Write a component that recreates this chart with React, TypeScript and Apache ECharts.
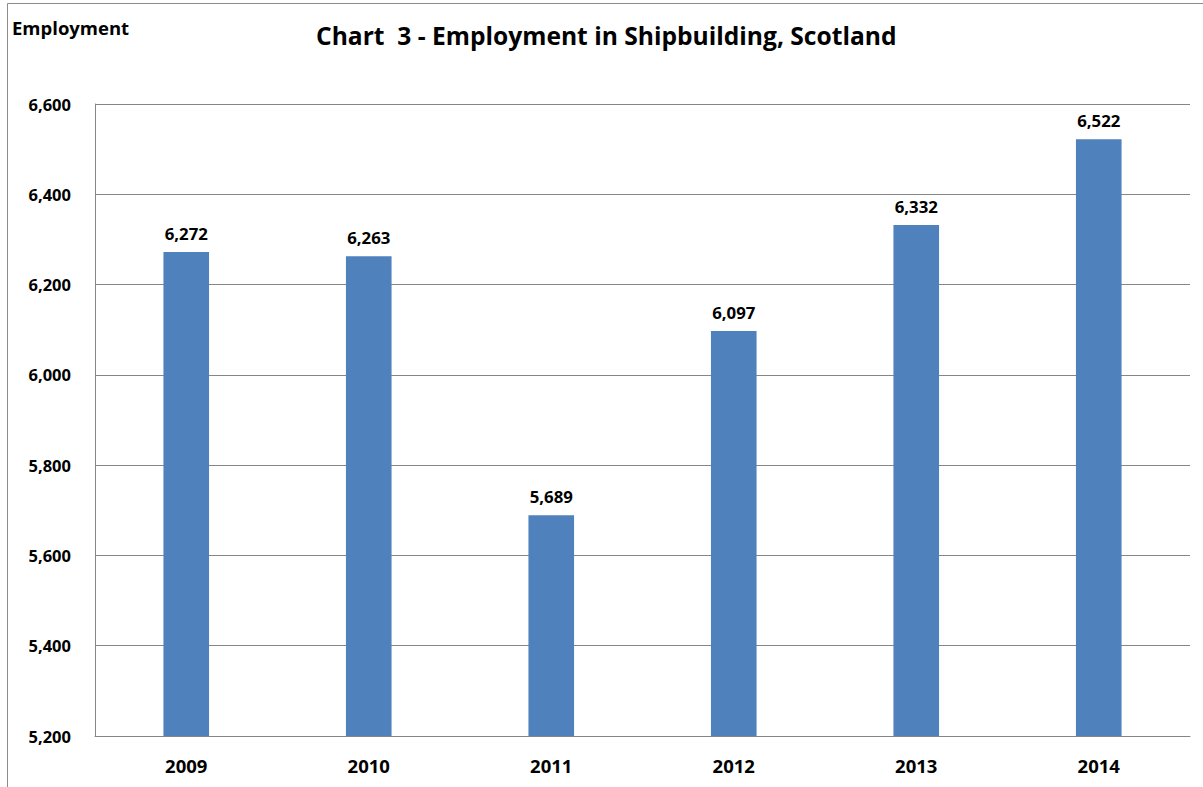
import React, { useEffect, useRef } from "react";
import * as echarts from "echarts";

const categories = ["2009", "2010", "2011", "2012", "2013", "2014"];
const employment = [6272, 6263, 5689, 6097, 6332, 6522];
const yMin = 5200;
const yMax = 6600;
const yInterval = 200;

const FONT = "'Open Sans', Lato, sans-serif";
const fmt = (v: number) => v.toLocaleString("en-GB");

export default function App() {
  const ref = useRef<HTMLDivElement>(null);
  useEffect(() => {
    if (!ref.current) return;
    const chart = echarts.init(ref.current, undefined, { renderer: "svg" });
    chart.setOption({
      animation: false,
      backgroundColor: "#fff",
      graphic: [
        {
          type: "rect",
          shape: { x: 7.5, y: 3.5, width: 1300, height: 900 },
          style: { fill: "none", stroke: "#8c8c8c", lineWidth: 1 },
          silent: true,
        },
        {
          type: "text",
          left: 12,
          top: 18,
          style: { text: "Employment", font: `bold 18.5px ${FONT}`, fill: "#000" },
        },
        {
          type: "text",
          left: 316,
          top: 23,
          style: {
            text: "Chart  3 - Employment in Shipbuilding, Scotland",
            font: `bold 24.6px ${FONT}`,
            fill: "#000",
          },
        },
      ],
      grid: { left: 95, right: 13, top: 104, bottom: 51, containLabel: false },
      xAxis: {
        type: "category",
        data: categories,
        axisLine: { lineStyle: { color: "#868686", width: 1 } },
        axisTick: { show: false },
        axisLabel: {
          color: "#000",
          fontFamily: FONT,
          fontWeight: "bold",
          fontSize: 18.5,
          margin: 20,
        },
      },
      yAxis: {
        type: "value",
        min: yMin,
        max: yMax,
        interval: yInterval,
        axisLine: { show: true, lineStyle: { color: "#868686", width: 1 } },
        axisTick: { show: false },
        splitLine: { lineStyle: { color: "#868686", width: 1 } },
        axisLabel: {
          color: "#000",
          fontFamily: FONT,
          fontWeight: "bold",
          fontSize: 16.5,
          margin: 24,
          formatter: (v: number) => fmt(v),
        },
      },
      series: [
        {
          type: "bar",
          data: employment,
          barWidth: "25%",
          itemStyle: { color: "#4F81BD" },
          label: {
            show: true,
            position: "top",
            distance: 10,
            color: "#000",
            fontFamily: FONT,
            fontWeight: "bold",
            fontSize: 16.8,
            formatter: (p: any) => fmt(p.value),
          },
        },
      ],
    });
    return () => chart.dispose();
  }, []);
  return (
    <div
      ref={ref}
      style={{ position: "fixed", left: 0, top: 0, width: 1203, height: 787 }}
    />
  );
}
